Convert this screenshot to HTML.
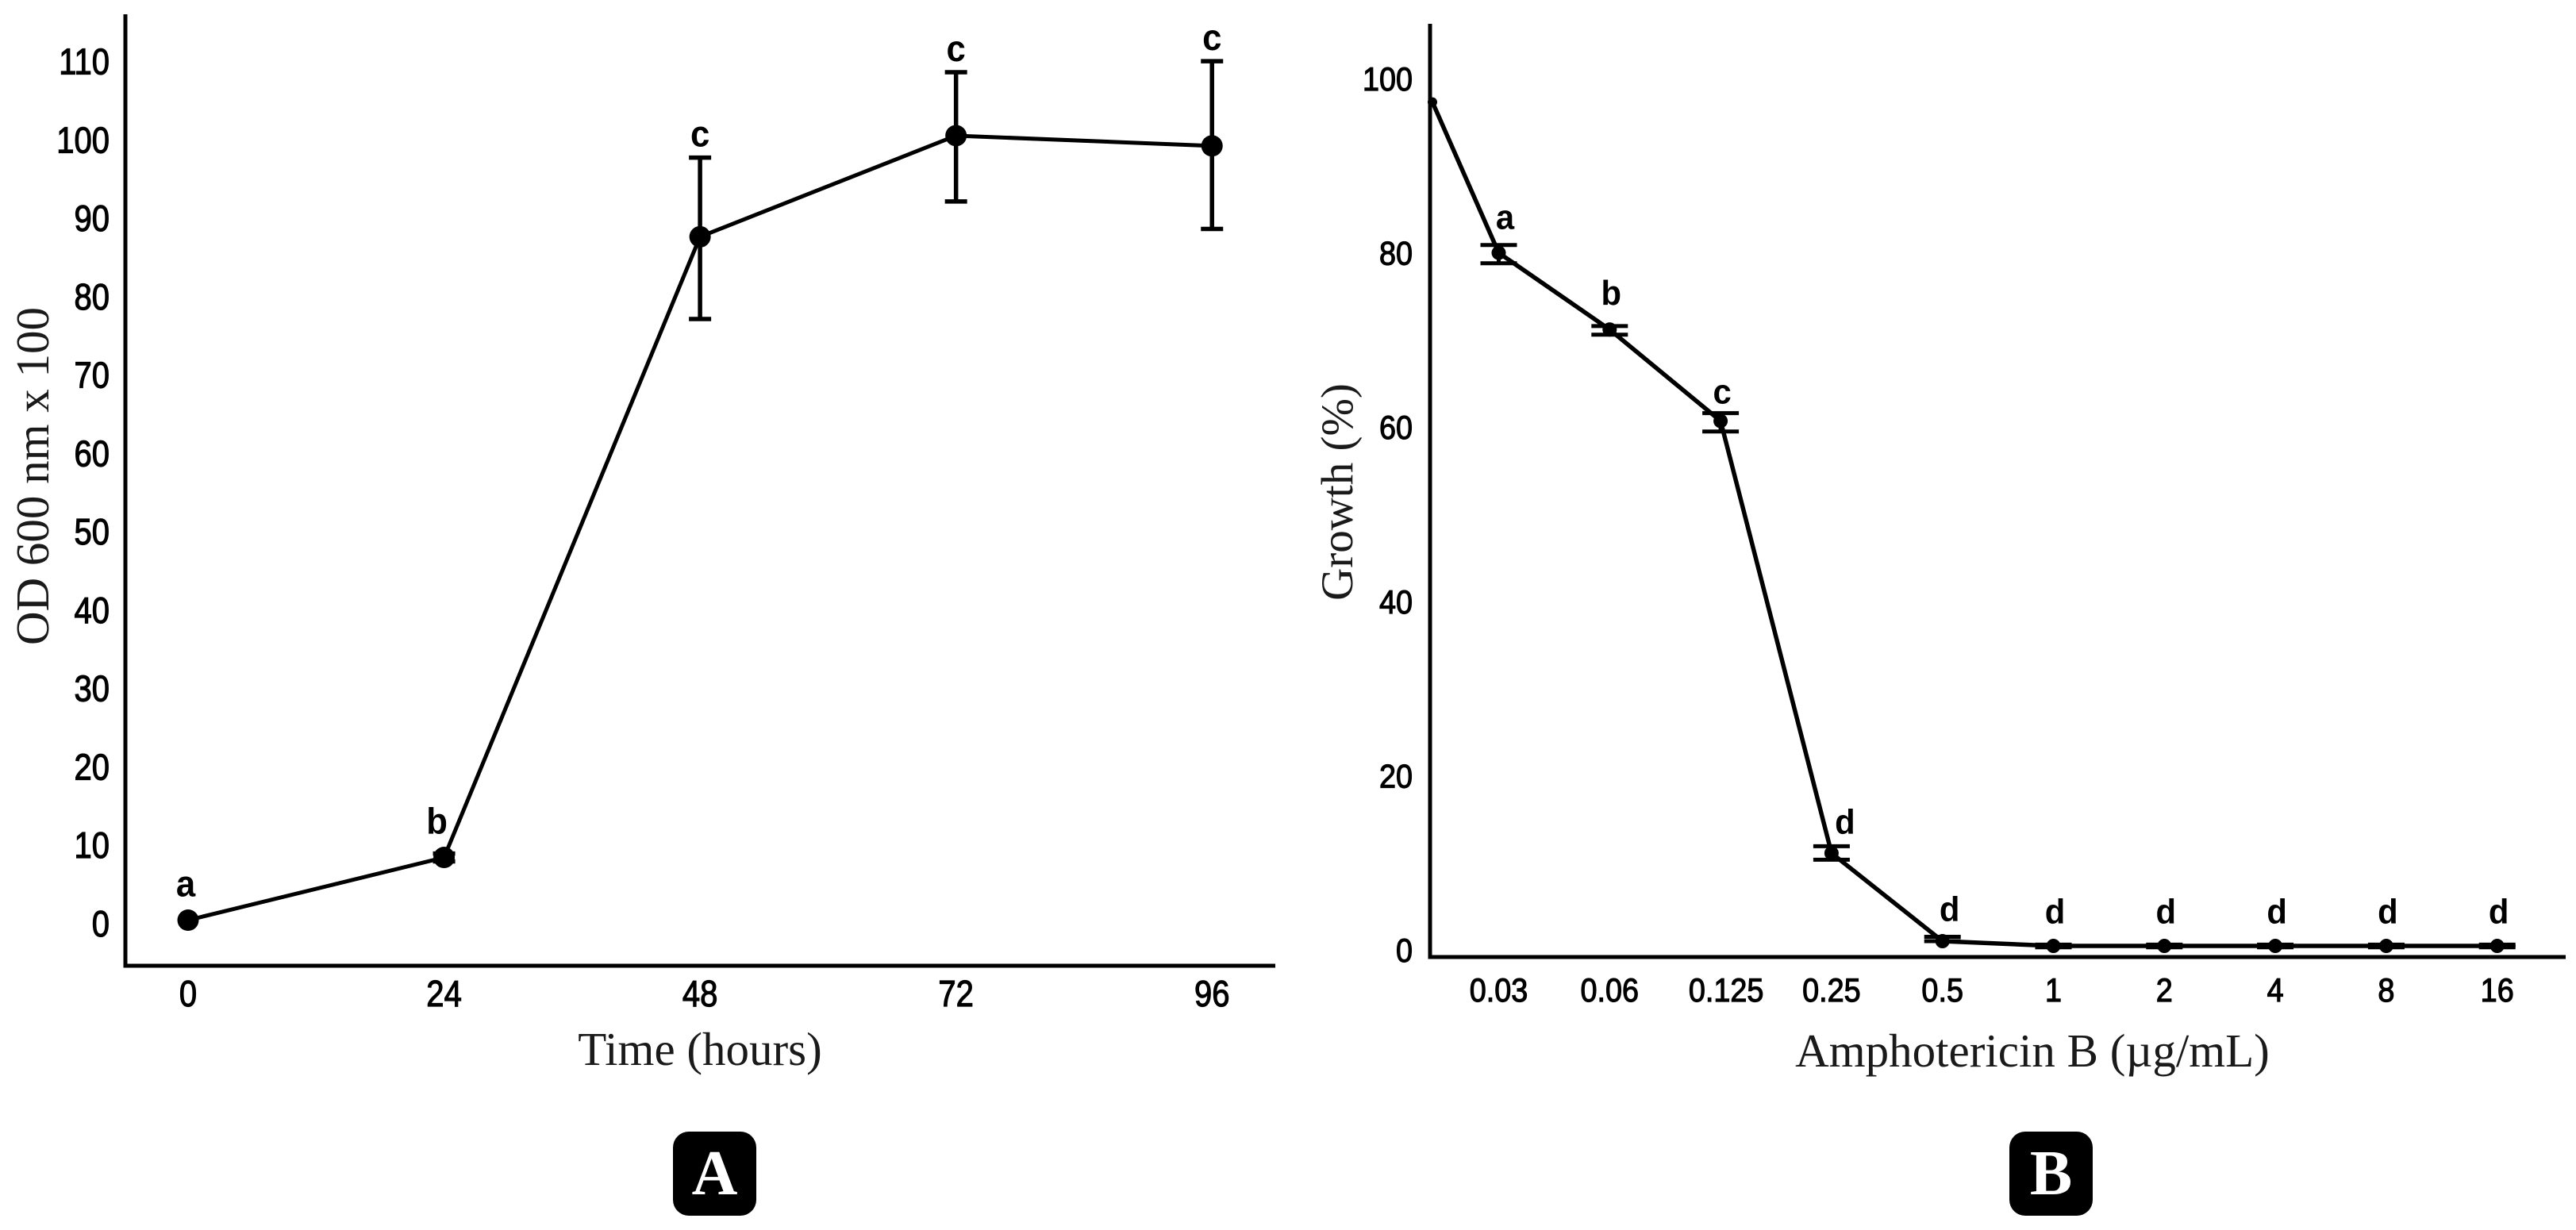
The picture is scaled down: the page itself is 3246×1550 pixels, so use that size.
<!DOCTYPE html>
<html lang="en">
<head>
<meta charset="utf-8">
<title>Growth curve and Amphotericin B susceptibility</title>
<style>
  html, body { margin: 0; padding: 0; background: #fff; }
  svg { display: block; }
  .tick { font-family: "Liberation Sans", sans-serif; fill: #000; stroke: #000; stroke-width: 1.2px; }
  .letter { font-family: "Liberation Sans", sans-serif; font-weight: bold; fill: #000; }
  .title { font-family: "Liberation Serif", serif; font-size: 59px; fill: #1a1a1a; }
  .panel { font-family: "Liberation Serif", serif; font-weight: bold; font-size: 80px; fill: #fff; text-anchor: middle; }
</style>
</head>
<body>
<svg id="figure" xmlns="http://www.w3.org/2000/svg" width="3246" height="1550" viewBox="0 0 3246 1550">
  <rect x="0" y="0" width="3246" height="1550" fill="#fff"/>

  <g id="chartA"></g>
  <g id="chartB"></g>

  <text class="title" x="882" y="1342" text-anchor="middle">Time (hours)</text>
  <text class="title" transform="translate(61,600) rotate(-90)" text-anchor="middle">OD 600 nm x 100</text>
  <text class="title" x="2561" y="1344" text-anchor="middle">Amphotericin B (µg/mL)</text>
  <text class="title" style="font-size:57px" transform="translate(1704,620) rotate(-90)" text-anchor="middle">Growth (%)</text>

  <g>
    <rect x="848" y="1426" width="105" height="106" rx="20" fill="#000"/>
    <text class="panel" x="900.5" y="1505">A</text>
  </g>
  <g>
    <rect x="2532" y="1426" width="105" height="106" rx="20" fill="#000"/>
    <text class="panel" x="2584.5" y="1505">B</text>
  </g>
</svg>

<script>
// Panel A data
var hoursA = [0, 24, 48, 72, 96];
var meanA = [0.4, 8.4, 87.6, 100.5, 99.2];
var errHighA = [0.4, 8.9, 97.7, 108.6, 110];
var errLowA = [0.4, 7.9, 77.1, 92.1, 88.6];
var lettersA = ['a', 'b', 'c', 'c', 'c'];
var yTicksA = [0, 10, 20, 30, 40, 50, 60, 70, 80, 90, 100, 110];

// Panel B data
var categoriesB = ['0.03', '0.06', '0.125', '0.25', '0.5', '1', '2', '4', '8', '16'];
var controlB = 97.3;
var meanB = [80, 71.2, 60.7, 11.1, 1.0, 0.45, 0.45, 0.45, 0.45, 0.45];
var errHighB = [80.9, 71.6, 61.6, 11.9, 1.5, 0.6, 0.6, 0.6, 0.6, 0.6];
var errLowB = [78.8, 70.6, 59.5, 10.35, 1.0, 0.3, 0.3, 0.3, 0.3, 0.3];
var lettersB = ['a', 'b', 'c', 'd', 'd', 'd', 'd', 'd', 'd', 'd'];
var yTicksB = [0, 20, 40, 60, 80, 100];

var NS = 'http://www.w3.org/2000/svg';
function xA(h) { return 237 + h * 13.44; }
function yA(v) { return 1163.5 - v * 9.876; }
function xB(i) { return 1888.5 + i * 139.8; }
function yB(v) { return 1197 - v * 10.98; }

function make(parent, tag, attrs) {
  var el = document.createElementNS(NS, tag);
  for (var k in attrs) el.setAttribute(k, attrs[k]);
  parent.appendChild(el);
  return el;
}
function lineEl(parent, x1, y1, x2, y2, w) {
  return make(parent, 'line', { x1: x1, y1: y1, x2: x2, y2: y2, stroke: '#000', 'stroke-width': w });
}
function textEl(parent, cls, str, x, y, size, sx, anchor) {
  var el = make(parent, 'text', {
    'class': cls,
    transform: 'translate(' + x + ',' + y + ') scale(' + sx + ',1)',
    'font-size': size,
    'text-anchor': anchor
  });
  el.textContent = str;
  return el;
}

var gA = document.getElementById('chartA');
var gB = document.getElementById('chartB');
var el, i;

// ---------- Panel A ----------
el = lineEl(gA, 158, 18, 158, 1219.5, 5);


el = lineEl(gA, 155.5, 1217, 1607, 1217, 5);



yTicksA.forEach(function (t) {
  var lab = textEl(gA, 'tick', String(t), 138, yA(t) + 16.5, 46, 0.87, 'end');
  
  
});
hoursA.forEach(function (h) {
  var lab = textEl(gA, 'tick', String(h), xA(h), 1268, 46, 0.87, 'middle');
  
  
});

el = make(gA, 'polyline', {
  points: hoursA.map(function (h, k) { return xA(h) + ',' + yA(meanA[k]); }).join(' '),
  fill: 'none', stroke: '#000', 'stroke-width': 5, 'stroke-linejoin': 'round'
});



hoursA.forEach(function (h, k) {
  var x = xA(h);
  if (errHighA[k] > errLowA[k]) {
    var stem = lineEl(gA, x, yA(errHighA[k]), x, yA(errLowA[k]), 5.5);
    
    
    var capT = lineEl(gA, x - 14, yA(errHighA[k]), x + 14, yA(errHighA[k]), 5.5);
    
    
    var capB = lineEl(gA, x - 14, yA(errLowA[k]), x + 14, yA(errLowA[k]), 5.5);
    
    
  }
  var pt = make(gA, 'circle', { cx: x, cy: yA(meanA[k]), r: 13.5, fill: '#000' });
  
  

  var hasBar = errHighA[k] - meanA[k] > 1;
  var ly = hasBar ? yA(errHighA[k]) - 14 : yA(meanA[k]) - 30;
  var lx = x + (k === 1 ? -9 : k === 0 ? -3 : 0);
  var let1 = textEl(gA, 'letter', lettersA[k], lx, ly, 46, 0.95, 'middle');
  
  
});

// ---------- Panel B ----------
el = lineEl(gB, 1802, 30, 1802, 1208.5, 5);


el = lineEl(gB, 1799.5, 1206, 3233, 1206, 5);



yTicksB.forEach(function (t) {
  var lab = textEl(gB, 'tick', String(t), 1780, yB(t) + 15, 42, 0.9, 'end');
  
  
});
categoriesB.forEach(function (c, k) {
  var lab = textEl(gB, 'tick', c, xB(k) + (k === 2 ? 7 : 0), 1262, 42, 0.9, 'middle');
  
  
});

var ptsB = [1805 + ',' + yB(controlB)].concat(categoriesB.map(function (c, k) {
  return xB(k) + ',' + yB(meanB[k]);
}));
ptsB.push((xB(categoriesB.length - 1) + 23) + ',' + yB(meanB[meanB.length - 1]));
el = make(gB, 'polyline', {
  points: ptsB.join(' '), fill: 'none', stroke: '#000', 'stroke-width': 5.5, 'stroke-linejoin': 'round'
});



el = make(gB, 'circle', { cx: 1805, cy: yB(controlB), r: 6, fill: '#000' });



categoriesB.forEach(function (c, k) {
  var x = xB(k);
  var capT = lineEl(gB, x - 23, yB(errHighB[k]), x + 23, yB(errHighB[k]), 5);
  
  
  var capB = lineEl(gB, x - 23, yB(errLowB[k]), x + 23, yB(errLowB[k]), 5);
  
  
  var stem = lineEl(gB, x, yB(errHighB[k]), x, yB(errLowB[k]), 5);
  
  
  var pt = make(gB, 'circle', { cx: x, cy: yB(meanB[k]), r: 9, fill: '#000' });
  
  

  var gap = (errHighB[k] - meanB[k] < 0.4) ? 27 : (k === 2 ? 12 : k === 3 ? 16 : 20);
  var shift = k === 0 ? 8 : k === 3 ? 17 : k === 4 ? 9 : 2;
  var let2 = textEl(gB, 'letter', lettersB[k], x + shift, yB(errHighB[k]) - gap, 44, 0.95, 'middle');
  
  
});
</script>
</body>
</html>
